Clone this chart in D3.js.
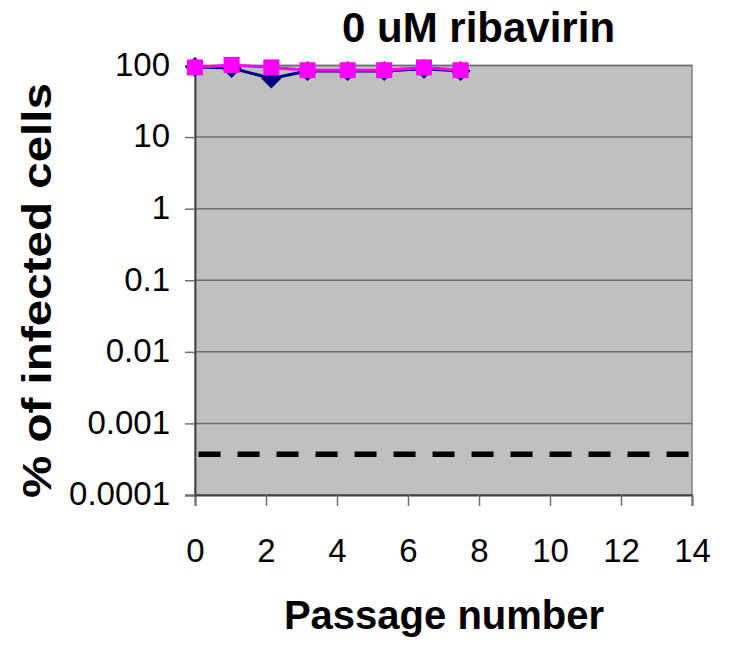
<!DOCTYPE html>
<html>
<head>
<meta charset="utf-8">
<script src="https://cdn.jsdelivr.net/npm/d3@7"></script>
<style>
  body { margin: 0; background: #fff; }
  text { font-family: "Liberation Sans", Arial, sans-serif; fill: #000; }
</style>
</head>
<body>
<div id="chart"></div>
<script>
// data
var passage = [0, 1.03, 2.15, 3.17, 4.3, 5.33, 6.45, 7.48];
var seriesNavy = [95, 92, 66, 84, 84, 84, 90, 84];
var seriesPink = [94, 102, 94, 86, 86, 86, 94, 86];
var limitX = [0.1, 14];
var limitY = 0.00037;
var xTicks = [0, 2, 4, 6, 8, 10, 12, 14];
var yTicks = [0.0001, 0.001, 0.01, 0.1, 1, 10, 100];
var yTickLabels = ["0.0001", "0.001", "0.01", "0.1", "1", "10", "100"];

var svgWidth = 749;
var svgHeight = 653;
var margin = { top: 65.5, right: 57, bottom: 158, left: 195 };
var width = svgWidth - margin.left - margin.right;
var height = svgHeight - margin.top - margin.bottom;

var svg = d3.select("#chart")
  .append("svg")
  .attr("width", svgWidth)
  .attr("height", svgHeight);

var chartGroup = svg.append("g")
  .attr("transform", `translate(${margin.left}, ${margin.top})`);

var xScale = d3.scaleLinear().domain([0, 14]).range([0, width]);
var yScale = d3.scaleLog().domain([0.0001, 100]).range([height, 0]);

// plot area
chartGroup.append("rect")
  .attr("width", width)
  .attr("height", height)
  .attr("fill", "#c0c0c0")
  .attr("stroke", "#808080")
  .attr("stroke-width", 1.5);

// gridlines
chartGroup.selectAll(".grid")
  .data(yTicks)
  .enter()
  .append("line")
  .attr("x1", 0)
  .attr("x2", width)
  .attr("y1", d => yScale(d))
  .attr("y2", d => yScale(d))
  .attr("stroke", "#6e6e6e")
  .attr("stroke-width", 1.5);

// axes
var bottomAxis = d3.axisBottom(xScale).tickValues(xTicks).tickSize(11).tickPadding(33);
var leftAxis = d3.axisLeft(yScale).tickValues(yTicks)
  .tickFormat((d, i) => yTickLabels[i]).tickSize(10).tickPadding(15);

var xAxisG = chartGroup.append("g")
  .attr("transform", `translate(0, ${height})`)
  .call(bottomAxis);
var yAxisG = chartGroup.append("g").call(leftAxis);

[xAxisG, yAxisG].forEach(function(g) {
  g.select(".domain").attr("stroke", "#404040").attr("stroke-width", 1.8);
  g.selectAll(".tick line").attr("stroke", "#707070").attr("stroke-width", 1.5);
  g.selectAll(".tick text")
    .style("font-family", "'Liberation Sans', Arial, sans-serif")
    .style("font-size", "33px")
    .attr("fill", "#000");
});
xAxisG.selectAll(".tick text").attr("dy", "0.71em");
yAxisG.selectAll(".tick text").attr("dy", "0.3em");

// detection limit
chartGroup.append("line")
  .attr("x1", xScale(limitX[0]))
  .attr("x2", xScale(limitX[1]))
  .attr("y1", yScale(limitY))
  .attr("y2", yScale(limitY))
  .attr("stroke", "#000")
  .attr("stroke-width", 5.5)
  .attr("stroke-dasharray", "22 17");

var navyData = passage.map((p, i) => ({ x: p, y: seriesNavy[i] }));
var pinkData = passage.map((p, i) => ({ x: p, y: seriesPink[i] }));

var line = d3.line().x(d => xScale(d.x)).y(d => yScale(d.y));

chartGroup.append("path")
  .datum(navyData)
  .attr("d", line)
  .attr("fill", "none")
  .attr("stroke", "#000080")
  .attr("stroke-width", 3);

chartGroup.selectAll(".diamond")
  .data(navyData)
  .enter()
  .append("path")
  .attr("transform", d => `translate(${xScale(d.x)}, ${yScale(d.y)})`)
  .attr("d", "M0,-10L10,0L0,10L-10,0Z")
  .attr("fill", "#000080");

chartGroup.append("path")
  .datum(pinkData)
  .attr("d", line)
  .attr("fill", "none")
  .attr("stroke", "#ff00ff")
  .attr("stroke-width", 3);

chartGroup.selectAll(".square")
  .data(pinkData)
  .enter()
  .append("rect")
  .attr("x", d => xScale(d.x) - 8)
  .attr("y", d => yScale(d.y) - 8)
  .attr("width", 16)
  .attr("height", 16)
  .attr("fill", "#ff00ff");

// labels
svg.append("text")
  .attr("x", 478.5)
  .attr("y", 42)
  .attr("text-anchor", "middle")
  .style("font-size", "42px")
  .style("font-weight", "bold")
  .text("0 uM ribavirin");

svg.append("text")
  .attr("x", 444)
  .attr("y", 629)
  .attr("text-anchor", "middle")
  .style("font-size", "40px")
  .style("font-weight", "bold")
  .text("Passage number");

svg.append("text")
  .attr("transform", "translate(51, 290.5) rotate(-90)")
  .attr("text-anchor", "middle")
  .attr("textLength", 415)
  .attr("lengthAdjust", "spacingAndGlyphs")
  .style("font-size", "40px")
  .style("font-weight", "bold")
  .text("% of infected cells");
</script>
</body>
</html>
